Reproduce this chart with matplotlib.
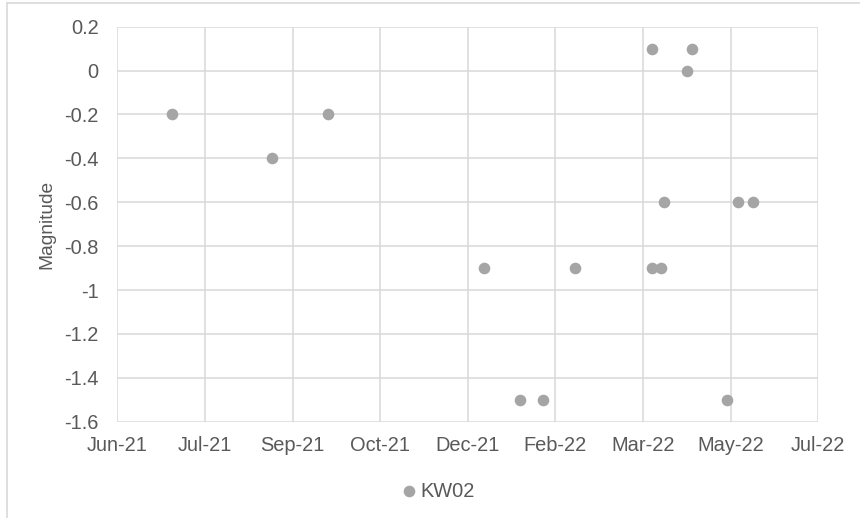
import matplotlib
matplotlib.use("Agg")
import matplotlib.pyplot as plt
import matplotlib.dates as mdates
import numpy as np
import pandas as pd
from matplotlib.ticker import FixedLocator, FuncFormatter

# KW02 observations
dates = ["2021-07-02", "2021-08-28", "2021-09-29", "2021-12-27", "2022-01-17",
         "2022-01-30", "2022-02-17", "2022-04-02", "2022-04-02", "2022-04-07",
         "2022-04-09", "2022-04-22", "2022-04-25", "2022-05-15", "2022-05-21",
         "2022-05-30"]
magnitude = [-0.2, -0.4, -0.2, -0.9, -1.5,
             -1.5, -0.9, 0.1, -0.9, -0.9,
             -0.6, 0.0, 0.1, -1.5, -0.6,
             -0.6]
series_name = "KW02"

x_start, x_end, x_step_days = "2021-06-01", "2022-07-06", 50
y_min, y_max, y_step = -1.6, 0.2, 0.2

TEXT = "#595959"
GRID = "#d9d9d9"
DOT = "#a5a5a5"

plt.rcParams["font.family"] = ["Liberation Sans", "DejaVu Sans"]

fig = plt.figure(figsize=(8.6, 5.18), dpi=100)
ax = fig.add_axes([0.1364, 0.1859, 0.8151, 0.7626])

x = mdates.date2num(pd.to_datetime(dates))
ax.scatter(x, magnitude, s=70, color=DOT, linewidths=0, zorder=3, label=series_name)

x0 = mdates.date2num(pd.Timestamp(x_start))
x1 = mdates.date2num(pd.Timestamp(x_end))
ax.set_xlim(x0, x1)
ax.xaxis.set_major_locator(FixedLocator(np.arange(x0, x1 + 1, x_step_days)))
ax.xaxis.set_major_formatter(mdates.DateFormatter("%b-%y"))

ax.set_ylim(y_min, y_max)
yt = np.round(np.arange(y_min, y_max + 1e-9, y_step), 1)
ax.yaxis.set_major_locator(FixedLocator(yt))
ax.yaxis.set_major_formatter(FuncFormatter(lambda v, _: f"{round(v, 1) + 0:g}"))

ax.grid(True, color=GRID, lw=1.1)
ax.set_axisbelow(True)
for s in ax.spines.values():
    s.set_visible(False)
ax.tick_params(length=0, labelsize=14.4, labelcolor=TEXT)
ax.tick_params(axis="y", pad=13.5)
ax.tick_params(axis="x", pad=10)
ax.set_ylabel("Magnitude", fontsize=13.8, color=TEXT, labelpad=6)

fig.legend(loc="center", bbox_to_anchor=(0.507, 0.052), frameon=False,
           fontsize=14.4, labelcolor=TEXT, handletextpad=-0.05, markerscale=1.0,
           borderpad=0, handlelength=1.2)

# chart frame (top and left edges)
fig.add_artist(plt.Line2D([0.0078, 0.0078], [0, 0.995], transform=fig.transFigure,
                          color=GRID, lw=1.2))
fig.add_artist(plt.Line2D([0.0078, 1.0], [0.995, 0.995], transform=fig.transFigure,
                          color=GRID, lw=1.2))

fig.savefig("out.png", dpi=100)
